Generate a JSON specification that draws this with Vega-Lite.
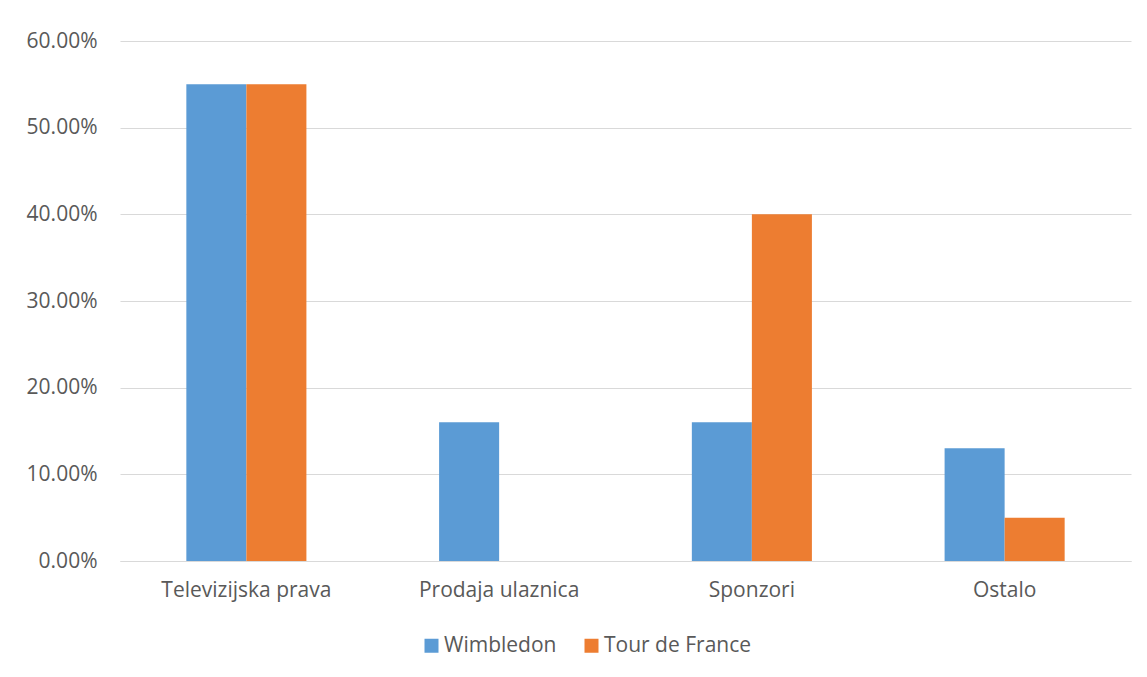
{
  "$schema": "https://vega.github.io/schema/vega-lite/v6.json",
  "width": 1011,
  "height": 520,
  "autosize": {"type": "none"},
  "padding": {"left": 120, "top": 41, "right": 16, "bottom": 116},
  "background": "white",
  "data": {
    "values": [
      {"category": "Televizijska prava", "series": "Wimbledon", "value": 0.55},
      {"category": "Televizijska prava", "series": "Tour de France", "value": 0.55},
      {"category": "Prodaja ulaznica", "series": "Wimbledon", "value": 0.16},
      {"category": "Prodaja ulaznica", "series": "Tour de France", "value": 0.0},
      {"category": "Sponzori", "series": "Wimbledon", "value": 0.16},
      {"category": "Sponzori", "series": "Tour de France", "value": 0.40},
      {"category": "Ostalo", "series": "Wimbledon", "value": 0.13},
      {"category": "Ostalo", "series": "Tour de France", "value": 0.05}
    ]
  },
  "mark": {"type": "bar"},
  "encoding": {
    "x": {
      "field": "category",
      "type": "nominal",
      "sort": ["Televizijska prava", "Prodaja ulaznica", "Sponzori", "Ostalo"],
      "scale": {"paddingInner": 0.525, "paddingOuter": 0.2625},
      "axis": {
        "title": null,
        "labelAngle": 0,
        "ticks": false,
        "domain": true,
        "domainColor": "#D9D9D9",
        "domainWidth": 1,
        "labelPadding": 18,
        "labelFontSize": 21,
        "labelColor": "#595959",
        "labelFont": "Open Sans",
        "grid": false
      }
    },
    "xOffset": {
      "field": "series",
      "type": "nominal",
      "sort": ["Wimbledon", "Tour de France"],
      "scale": {"paddingInner": 0, "paddingOuter": 0}
    },
    "y": {
      "field": "value",
      "type": "quantitative",
      "scale": {"domain": [0, 0.6], "nice": false},
      "axis": {
        "title": null,
        "format": ".2%",
        "values": [0, 0.1, 0.2, 0.3, 0.4, 0.5, 0.6],
        "domain": false,
        "ticks": false,
        "labelPadding": 23,
        "labelFontSize": 21,
        "labelColor": "#595959",
        "labelFont": "Open Sans",
        "grid": true,
        "gridColor": "#D9D9D9",
        "gridWidth": 1
      }
    },
    "color": {
      "field": "series",
      "type": "nominal",
      "sort": ["Wimbledon", "Tour de France"],
      "scale": {"domain": ["Wimbledon", "Tour de France"], "range": ["#5B9BD5", "#ED7D31"]},
      "legend": {
        "title": null,
        "orient": "none",
        "direction": "horizontal",
        "legendX": 301,
        "legendY": 594,
        "symbolType": "square",
        "symbolSize": 196,
        "symbolStrokeWidth": 0,
        "symbolOpacity": 1,
        "labelFontSize": 21,
        "labelColor": "#595959",
        "labelFont": "Open Sans",
        "labelOffset": 2,
        "columnPadding": 24
      }
    }
  },
  "config": {
    "view": {"stroke": null}
  }
}
